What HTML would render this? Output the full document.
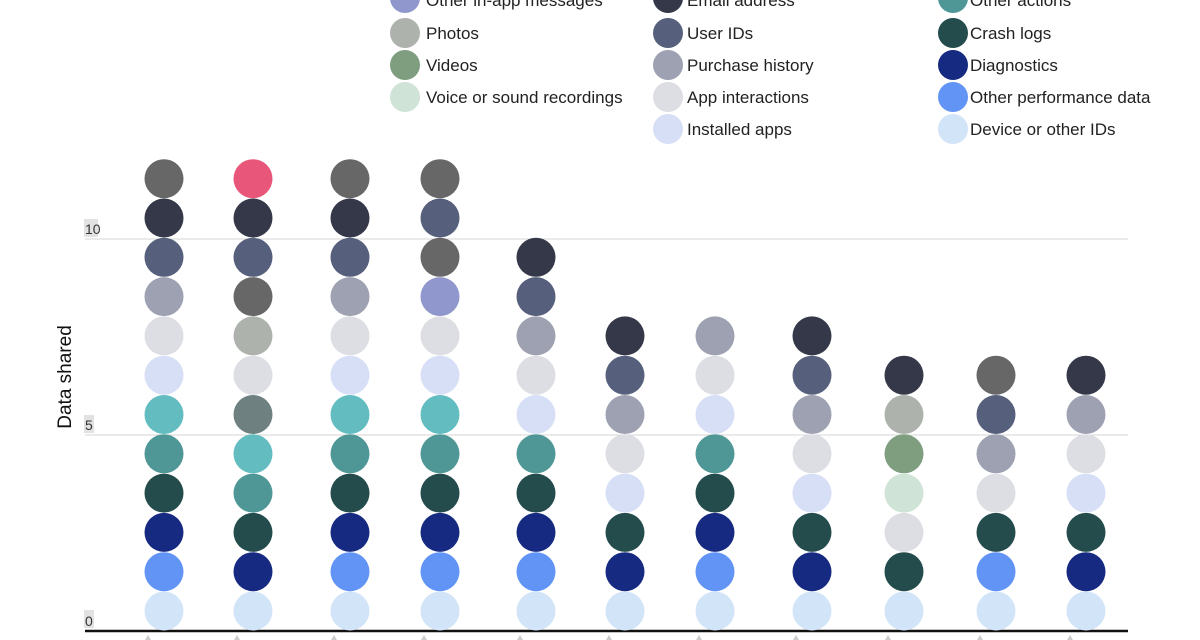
<!DOCTYPE html>
<html><head><meta charset="utf-8"><style>
html,body{margin:0;padding:0;background:#fff;width:1200px;height:640px;overflow:hidden}
text{font-family:"Liberation Sans",sans-serif}
</style></head><body>
<svg id="s" width="1200" height="640" xmlns="http://www.w3.org/2000/svg">
<line x1="85" y1="239" x2="1128" y2="239" stroke="#d6d6d6" stroke-width="1"/>
<line x1="85" y1="435" x2="1128" y2="435" stroke="#d6d6d6" stroke-width="1"/>
<rect x="84" y="219" width="14" height="18" fill="#e2e2e2"/>
<text x="85" y="234" font-size="14" fill="#333">10</text>
<rect x="84" y="415" width="10" height="18" fill="#e2e2e2"/>
<text x="85" y="430" font-size="14" fill="#333">5</text>
<rect x="84" y="610" width="10" height="18" fill="#e2e2e2"/>
<text x="85" y="626" font-size="14" fill="#333">0</text>
<text transform="translate(71,377) rotate(-90)" text-anchor="middle" font-size="19" fill="#111">Data shared</text>
<line x1="85" y1="631" x2="1128" y2="631" stroke="#111" stroke-width="2.5"/>
<g id="c"></g>
<g id="lg" font-size="17" fill="#222">
<text x="426" y="6">Other in-app messages</text>
<text x="426" y="39">Photos</text>
<text x="426" y="71">Videos</text>
<text x="426" y="103">Voice or sound recordings</text>
<text x="687" y="6">Email address</text>
<text x="687" y="39">User IDs</text>
<text x="687" y="71">Purchase history</text>
<text x="687" y="103">App interactions</text>
<text x="687" y="135">Installed apps</text>
<text x="970" y="6">Other actions</text>
<text x="970" y="39">Crash logs</text>
<text x="970" y="71">Diagnostics</text>
<text x="970" y="103">Other performance data</text>
<text x="970" y="135">Device or other IDs</text>
</g>
</svg>
<script>
var C={A:"#676767",B:"#343849",C:"#565f7b",D:"#9ea1b1",E:"#dddee3",F:"#d7dff7",G:"#62bcc0",H:"#4f9797",I:"#244c4c",J:"#152a80",K:"#6194f5",L:"#d2e4f8",M:"#e8577a",P:"#adb2ad",V:"#7f9e80",R:"#d0e3d7",O:"#8f97cc",T:"#6e8080"};
var cols=[[164,"LKJIHGFEDCBA"],[253,"LJIHGTEPACBM"],[350,"LKJIHGFEDCBA"],[440,"LKJIHGFEOACA"],[536,"LKJIHFEDCB"],[625,"LJIFEDCB"],[715,"LKJIHFED"],[812,"LJIFEDCB"],[904,"LIERVPB"],[996,"LKIEDCA"],[1086,"LJIFEDB"]];
var ns="http://www.w3.org/2000/svg",g=document.getElementById("c"),s="";
cols.forEach(function(c){for(var i=0;i<c[1].length;i++){s+='<circle cx="'+c[0]+'" cy="'+(611-i*39.3)+'" r="19.5" fill="'+C[c[1][i]]+'"/>';}
s+='<path d="M'+(c[0]-19)+' 640 l3 -5 l3 5z" fill="#ccc"/>';});
var L=[[405,-2,"O"],[405,33,"P"],[405,65,"V"],[405,97,"R"],[668,-2,"B"],[668,33,"C"],[668,65,"D"],[668,97,"E"],[668,129,"F"],[953,-2,"H"],[953,33,"I"],[953,65,"J"],[953,97,"K"],[953,129,"L"]];
L.forEach(function(l){s+='<circle cx="'+l[0]+'" cy="'+l[1]+'" r="15" fill="'+C[l[2]]+'"/>';});
g.innerHTML=s;
</script>
</body></html>
